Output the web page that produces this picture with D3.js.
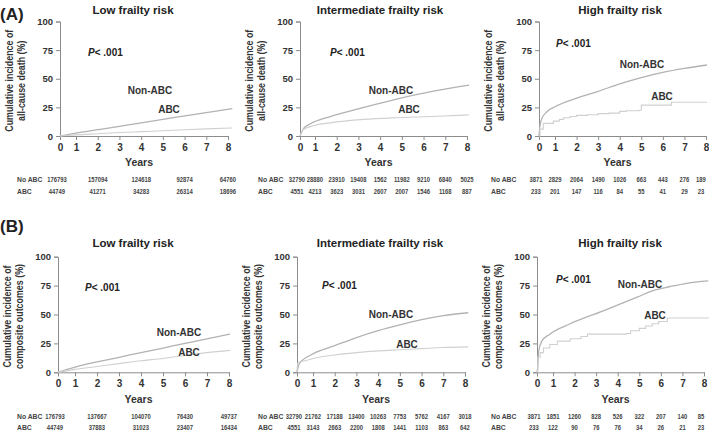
<!DOCTYPE html>
<html><head><meta charset="utf-8">
<script src="https://cdn.jsdelivr.net/npm/d3@7"></script>
<style>
html,body{margin:0;padding:0;background:#fff;}
svg{display:block;}
text{font-family:"Liberation Sans",Arial,sans-serif;}
</style></head>
<body><svg id="c" width="709" height="431"></svg>
<script>
// ---------------- DATA ----------------
const groups = ["Low frailty risk", "Intermediate frailty risk", "High frailty risk"];
const outcomes = ["all-cause death (%)", "composite outcomes (%)"];
const panelTags = ["(A)", "(B)"];
const yTicks = [0, 25, 50, 75, 100];
const xTicks = [0, 1, 2, 3, 4, 5, 6, 7, 8];
const seriesNames = ["Non-ABC", "ABC"];
const rowNames = ["No ABC", "ABC"];
const pText = "< .001";

// cumulative incidence (%) by year
const deathLowNonABC = [[0,0],[1,2.5],[2,5.5],[3,8.5],[4,11.5],[5,14.5],[6,17.5],[7,20.5],[8.2,24]];
const deathLowABC    = [[0,0],[1,1],[2,2],[3,3],[4,3.8],[5,4.6],[6,5.4],[7,6.2],[8.2,7]];
const deathIntNonABC = [[0,0],[0.1,3],[0.27,7],[0.67,10.5],[1.7,17],[3.25,25],[4.8,32.5],[6.4,39],[8.1,44.5]];
const deathIntABC    = [[0,0],[0.2,5.5],[0.9,9],[1.7,11.5],[3.25,14.5],[4.8,16],[6.4,17],[8.1,18.5]];
const deathHighNonABC= [[0,0],[0.05,8],[0.17,15],[0.48,21],[1,25.5],[2,33],[3,39],[4,45.5],[5,51],[6,55.5],[7,59],[8.05,62]];
const deathHighABC   = [[0,0],[0.06,6],[0.27,11],[0.9,13],[1.2,14.5],[1.4,16],[1.7,17],[2,18],[2.5,18.5],[3,19.5],[3.5,20],[4,21.5],[4.3,22],[4.9,22.5],[5,27],[6.4,29.5],[8.05,29.5]];
const compLowNonABC  = [[0,0],[1,4.5],[2,9],[3,13],[4,17],[5,21],[6,25],[7,29],[8.05,33]];
const compLowABC     = [[0,0],[1,2.5],[2,5],[3,7.5],[4,10],[5,12],[6,14.5],[7,17],[8.05,19]];
const compIntNonABC  = [[0,0],[0.1,6],[0.3,10],[0.6,13],[1,16],[2,23],[3,30],[4,36],[5,41],[6,45.5],[7,49],[8.15,51.5]];
const compIntABC     = [[0,0],[0.05,8],[0.5,10],[1,12],[2,15],[3,17],[4,18.5],[5,19.5],[6,20.5],[7,21.5],[8.15,22]];
const compHighNonABC = [[0,0],[0.05,5],[0.1,18],[0.3,27],[0.8,33],[1.8,42],[3.3,53],[4.1,59],[4.9,65],[5.7,71],[6.4,74],[7.2,77],[8.2,79]];
const compHighABC    = [[0,0],[0.05,13],[0.2,17],[0.4,21],[0.8,24],[1.2,27],[1.8,29],[2.3,31],[2.6,33],[4.4,33.5],[4.6,36],[5.0,38],[5.3,40],[5.6,42],[5.9,44],[6.3,47],[8.2,47.5]];

// numbers at risk
const lowRiskYears = [0, 2, 4, 6, 8];
const allRiskYears = [0, 1, 2, 3, 4, 5, 6, 7, 8];
const deathLowNoAbcN  = [176793, 157094, 124618, 92874, 64760];
const deathLowAbcN    = [44749, 41271, 34283, 26314, 18696];
const deathIntNoAbcN  = [32790, 28880, 23910, 19408, 1562, 11982, 9210, 6840, 5025];
const deathIntAbcN    = [4551, 4213, 3623, 3031, 2607, 2007, 1546, 1168, 887];
const deathHighNoAbcN = [3871, 2829, 2064, 1490, 1026, 663, 443, 276, 189];
const deathHighAbcN   = [233, 201, 147, 116, 84, 55, 41, 29, 23];
const compLowNoAbcN   = [176793, 137667, 104070, 76430, 49737];
const compLowAbcN     = [44749, 37883, 31023, 23407, 16434];
const compIntNoAbcN   = [32790, 21762, 17188, 13400, 10263, 7753, 5762, 4167, 3018];
const compIntAbcN     = [4551, 3143, 2663, 2200, 1808, 1441, 1103, 863, 642];
const compHighNoAbcN  = [3871, 1851, 1260, 828, 526, 322, 207, 140, 85];
const compHighAbcN    = [233, 122, 90, 76, 76, 34, 26, 21, 23];

// ---------------- ASSEMBLY ----------------
const curves = [
  [[deathLowNonABC, deathLowABC], [deathIntNonABC, deathIntABC], [deathHighNonABC, deathHighABC]],
  [[compLowNonABC, compLowABC], [compIntNonABC, compIntABC], [compHighNonABC, compHighABC]]
];
const risk = [
  [[lowRiskYears, deathLowNoAbcN, deathLowAbcN], [allRiskYears, deathIntNoAbcN, deathIntAbcN], [allRiskYears, deathHighNoAbcN, deathHighAbcN]],
  [[lowRiskYears, compLowNoAbcN, compLowAbcN], [allRiskYears, compIntNoAbcN, compIntAbcN], [allRiskYears, compHighNoAbcN, compHighAbcN]]
];

// ---------------- LAYOUT ----------------
const rowsL = [
  {y0: 136, y100: 21.5, titleY: 14, tagY: 20, yearsY: 166, r1: 182, r2: 194},
  {y0: 372.3, y100: 256.7, titleY: 247, tagY: 232, yearsY: 403, r1: 419, r2: 430}
];
const colsL = [
  [[60, 76, 228], [300, 315, 467], [539, 555, 706]],
  [[58, 75, 229], [297, 313, 465], [537, 553, 704]]
];
const rowLabelX = [17, 258, 491];
const pPos = [[[88, 56], [330, 56], [556, 47]], [[85, 291], [322, 289], [556, 283]]];
const namePos = [
  [[[150, 94], [169, 113]], [[391, 94], [409, 113]], [[642, 68], [662, 100]]],
  [[[179, 336], [189, 356]], [[391, 318], [407, 348]], [[640, 288], [655, 319]]]
];
const titleX = [133, 380, 620];
const lineStyle = [{c: "#b2b2b2", w: 1.3}, {c: "#d0d0d0", w: 1.1}];
const yLabelLen = 102;   // pixel length of first y-label line in the reference
const tableSquash = 0.86;

const svg = d3.select("#c");
const bold = "bold";

for (let r = 0; r < 2; r++) {
  const R = rowsL[r];
  svg.append("text").attr("x", 0).attr("y", R.tagY).attr("font-size", 17).attr("font-weight", bold)
    .attr("fill", "#222").text(panelTags[r]);
  for (let c = 0; c < 3; c++) {
    const C = colsL[r][c];
    const x = d3.scaleLinear().domain([0, 1, 8]).range(C);
    const y = d3.scaleLinear().domain([0, 100]).range([R.y0, R.y100]);
    const g = svg.append("g");

    // title
    g.append("text").attr("x", titleX[c]).attr("y", R.titleY).attr("text-anchor", "middle")
      .attr("font-size", 11.5).attr("font-weight", bold).attr("fill", "#222").text(groups[c]);

    // y axis
    const ya = g.append("g").attr("transform", `translate(${C[0]},0)`)
      .call(d3.axisLeft(y).tickValues(yTicks).tickSize(4).tickPadding(3));
    ya.select(".domain").attr("stroke", "#8c8c8c");
    ya.selectAll(".tick line").attr("stroke", "#8c8c8c");
    ya.selectAll(".tick text").attr("font-size", 9.5).attr("font-weight", bold).attr("fill", "#333")
      .attr("font-family", "Liberation Sans, Arial, sans-serif");

    // x axis
    const xa = g.append("g").attr("transform", `translate(0,${R.y0})`)
      .call(d3.axisBottom(x).tickValues(xTicks).tickFormat(d3.format("d")).tickSize(4).tickPadding(4));
    xa.select(".domain").attr("stroke", "#8c8c8c");
    xa.selectAll(".tick line").attr("stroke", "#8c8c8c");
    xa.selectAll(".tick text").attr("font-size", 10).attr("font-weight", bold).attr("fill", "#333")
      .attr("font-family", "Liberation Sans, Arial, sans-serif");

    // Years
    g.append("text").attr("x", (C[0] + C[2]) / 2 - 5).attr("y", R.yearsY).attr("text-anchor", "middle")
      .attr("font-size", 10.5).attr("font-weight", bold).attr("fill", "#333").text("Years");

    // y label (two lines, squeezed to the reference width)
    const ycx = C[0] - 47, ymid = (R.y0 + R.y100) / 2 + 2;
    const yl = g.append("text").attr("transform", `translate(${ycx},${ymid}) rotate(-90)`)
      .attr("text-anchor", "middle").attr("font-size", 10.5).attr("font-weight", bold).attr("fill", "#333");
    const t1 = yl.append("tspan").attr("x", 0).attr("y", 0).text("Cumulative incidence of");
    const t2 = yl.append("tspan").attr("x", 0).attr("y", 12).text(outcomes[r]);
    const k = yLabelLen / t1.node().getComputedTextLength();
    t1.attr("textLength", yLabelLen).attr("lengthAdjust", "spacingAndGlyphs");
    t2.attr("textLength", t2.node().getComputedTextLength() * k).attr("lengthAdjust", "spacingAndGlyphs");

    // curves
    curves[r][c].forEach((data, i) => {
      const step = (c === 2 && i === 1);
      const line = d3.line().x(d => x(d[0])).y(d => y(d[1]))
        .curve(step ? d3.curveStepAfter : d3.curveMonotoneX);
      g.append("path").datum(data).attr("d", line).attr("fill", "none")
        .attr("stroke", lineStyle[i].c).attr("stroke-width", lineStyle[i].w);
    });

    // P label
    const pt = g.append("text").attr("x", pPos[r][c][0]).attr("y", pPos[r][c][1])
      .attr("font-size", 10).attr("font-weight", bold).attr("fill", "#222");
    pt.append("tspan").attr("font-style", "italic").text("P");
    pt.append("tspan").text(pText);

    // series names
    seriesNames.forEach((nm, i) => {
      g.append("text").attr("x", namePos[r][c][i][0]).attr("y", namePos[r][c][i][1])
        .attr("text-anchor", "middle").attr("font-size", 10).attr("font-weight", bold)
        .attr("fill", "#333").text(nm);
    });

    // risk table
    const [yrs, nNo, nAbc] = risk[r][c];
    [nNo, nAbc].forEach((arr, kk) => {
      const ry = kk === 0 ? R.r1 : R.r2;
      g.append("text").attr("x", rowLabelX[c]).attr("y", ry).attr("font-size", 6.8)
        .attr("font-weight", bold).attr("fill", "#444").text(rowNames[kk]);
      g.selectAll(null).data(arr).enter().append("text")
        .attr("x", (d, j) => Math.min(x(yrs[j]) - (j === 0 ? 3 : 0), 701)).attr("y", ry)
        .attr("text-anchor", "middle")
        .attr("font-size", 6.8).attr("font-weight", bold).attr("fill", "#444").text(d => d)
        .each(function () {
          const w = this.getComputedTextLength();
          d3.select(this).attr("textLength", w * tableSquash).attr("lengthAdjust", "spacingAndGlyphs");
        });
    });
  }
}
</script></body></html>
